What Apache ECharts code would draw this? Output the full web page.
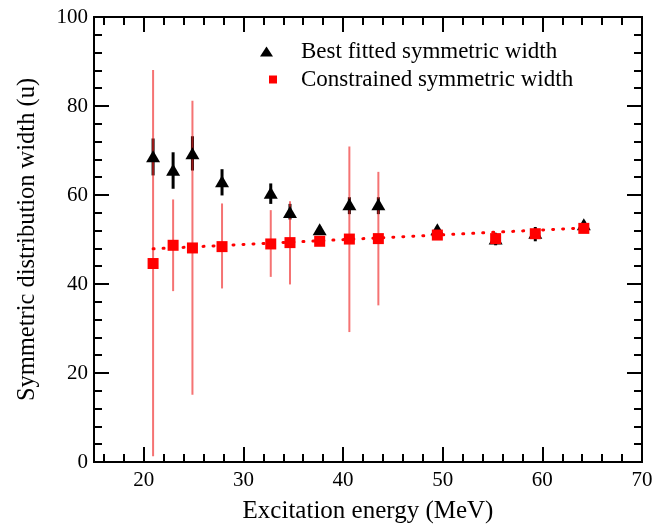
<!DOCTYPE html>
<html><head><meta charset="utf-8">
<script src="https://cdn.jsdelivr.net/npm/echarts@6/dist/echarts.min.js"></script>
<style>html,body{margin:0;padding:0;background:#fff}#c{width:670px;height:529px}</style>
</head><body><div id="c"></div>
<script>
const energy = [20.93, 22.94, 24.88, 27.85, 32.74, 34.67, 37.65, 40.63, 43.54, 49.46, 55.31, 59.29, 64.16];
const bestWidth = [68.7, 65.7, 69.4, 63.1, 60.5, 56.2, 52.3, 57.9, 57.9, 52.3, 50.2, 51.5, 53.4];
const bestLo = [64.4, 61.4, 65.5, 59.9, 58.0, 54.5, 51.5, 55.7, 55.7, 51.5, 48.7, 49.6, 52.5];
const bestHi = [72.7, 69.6, 73.2, 65.8, 62.6, 58.0, 53.0, 59.5, 59.5, 53.0, 51.5, 52.8, 54.2];
const constrWidth = [44.6, 48.7, 48.1, 48.4, 49.0, 49.3, 49.6, 50.1, 50.2, 51.0, 50.2, 51.3, 52.5];
const constrLo = [1.3, 38.4, 15.1, 39.0, 41.6, 39.9, 49.6, 29.2, 35.2, 51.0, 50.2, 51.3, 52.5];
const constrHi = [88.1, 59.0, 81.2, 58.1, 56.6, 58.6, 49.6, 70.9, 65.2, 51.0, 50.2, 51.3, 52.5];
const fitX = [20.93, 64.16];
const fitY = [47.9, 52.6];
const xMajor = [20, 30, 40, 50, 60, 70];
const xMinor = [16, 18, 22, 24, 26, 28, 32, 34, 36, 38, 42, 44, 46, 48, 52, 54, 56, 58, 62, 64, 66, 68];
const seriesNames = ['Best fitted symmetric width', 'Constrained symmetric width'];

const FONT = '"Liberation Serif", "Times New Roman", serif';
const chart = echarts.init(document.getElementById('c'));

function errData(lo, hi) {
  return energy.map((x, i) => [x, lo[i], hi[i]]);
}
function errRender(color, width) {
  return function (params, api) {
    const p1 = api.coord([api.value(0), api.value(1)]);
    const p2 = api.coord([api.value(0), api.value(2)]);
    return { type: 'line', shape: { x1: p1[0], y1: p1[1], x2: p2[0], y2: p2[1] },
      style: { stroke: color, lineWidth: width } };
  };
}
const axisLine = { show: true, lineStyle: { color: '#000', width: 2 } };
function xAx(pos, ticks, len, labels) {
  return {
    type: 'value', min: 15, max: 70, position: pos,
    axisLine: axisLine, splitLine: { show: false },
    axisTick: { show: true, inside: true, length: len, customValues: ticks, lineStyle: { color: '#000', width: 2 } },
    axisLabel: labels ? { show: true, customValues: xMajor, color: '#000', fontFamily: FONT, fontSize: 21, margin: 8 } : { show: false },
    name: labels ? 'Excitation energy (MeV)' : '', nameLocation: 'middle', nameGap: 37,
    nameTextStyle: { color: '#000', fontFamily: FONT, fontSize: 25 }
  };
}
function yAx(pos, labels) {
  return {
    type: 'value', min: 0, max: 100, interval: 20, position: pos,
    axisLine: axisLine, splitLine: { show: false },
    axisTick: { show: true, inside: true, length: 15, lineStyle: { color: '#000', width: 2 } },
    minorTick: { show: true, splitNumber: 5, length: 8, lineStyle: { color: '#000', width: 2 } },
    minorSplitLine: { show: false },
    axisLabel: labels ? { show: true, color: '#000', fontFamily: FONT, fontSize: 21, margin: 6 } : { show: false },
    name: labels ? 'Symmetric distribution width (u)' : '', nameLocation: 'middle', nameGap: 54,
    nameTextStyle: { color: '#000', fontFamily: FONT, fontSize: 24.5 }
  };
}
function legendText(padLeft) {
  return { color: '#000', fontFamily: FONT, fontSize: 23, padding: [0, 0, 0, padLeft] };
}

chart.setOption({
  animation: false,
  backgroundColor: '#fff',
  grid: { left: 94, right: 28, top: 17, bottom: 66 },
  xAxis: [xAx('bottom', xMajor, 15, true), xAx('bottom', xMinor, 8, false), xAx('top', xMajor, 15, false), xAx('top', xMinor, 8, false)],
  yAxis: [yAx('left', true), yAx('right', false)],
  legend: [
    { left: 260, top: 40, itemWidth: 13, itemHeight: 10, padding: 0,
      textStyle: legendText(23), data: [seriesNames[0]] },
    { left: 269, top: 68, itemWidth: 8, itemHeight: 8, padding: 0,
      textStyle: legendText(19), data: [seriesNames[1]] }
  ],
  series: [
    { type: 'custom', name: 'bestErr', renderItem: errRender('#000', 3),
      data: errData(bestLo, bestHi), encode: { x: 0, y: [1, 2] }, silent: true },
    { type: 'scatter', name: seriesNames[0], symbol: 'triangle', symbolSize: [14, 12],
      itemStyle: { color: '#000', opacity: 1 }, data: energy.map((x, i) => [x, bestWidth[i]]) },
    { type: 'custom', name: 'constrErr', renderItem: errRender('rgba(240,40,40,0.65)', 2),
      data: errData(constrLo, constrHi), encode: { x: 0, y: [1, 2] }, silent: true },
    { type: 'line', name: 'fit', data: fitX.map((x, i) => [x, fitY[i]]), symbol: 'none',
      lineStyle: { color: '#ff0000', width: 3, type: [1, 9], cap: 'round' } },
    { type: 'scatter', name: seriesNames[1], symbol: 'rect', symbolSize: 11,
      itemStyle: { color: '#ff0000', opacity: 1 }, data: energy.map((x, i) => [x, constrWidth[i]]) }
  ]
});
</script></body></html>
